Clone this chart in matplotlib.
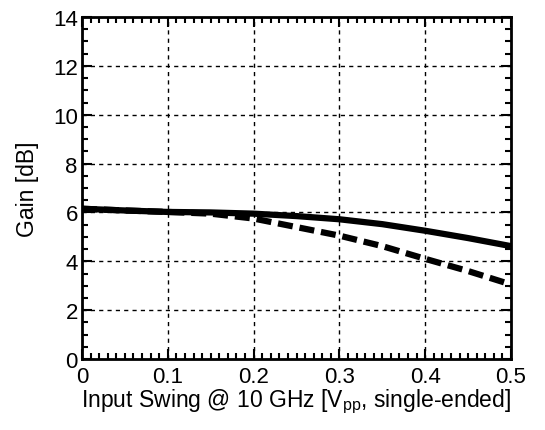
import matplotlib
matplotlib.use('Agg')
import matplotlib.pyplot as plt
from matplotlib.ticker import MultipleLocator

plt.rcParams['font.family'] = ['Liberation Sans', 'DejaVu Sans']

swing = [0.0, 0.05, 0.1, 0.15, 0.2, 0.25, 0.3, 0.35, 0.4, 0.45, 0.5]
gain_solid = [6.15, 6.08, 6.02, 6.0, 5.95, 5.85, 5.72, 5.52, 5.25, 4.95, 4.62]
gain_dashed = [6.15, 6.08, 6.02, 5.95, 5.75, 5.4, 5.05, 4.62, 4.1, 3.6, 3.05]

x_ticks = [0, 0.1, 0.2, 0.3, 0.4, 0.5]
x_labels = ['0', '0.1', '0.2', '0.3', '0.4', '0.5']
y_ticks = [0, 2, 4, 6, 8, 10, 12, 14]

fig = plt.figure(figsize=(5.45, 4.31), dpi=100)
ax = fig.add_axes([82 / 545, 1 - 360 / 431, 429 / 545, 342 / 431])

ax.plot(swing, gain_solid, color='black', lw=4.5, solid_capstyle='butt')
ax.plot(swing, gain_dashed, color='black', lw=4.5, ls=(0, (2.4, 1.1)))

ax.set_xlim(0, 0.5)
ax.set_ylim(0, 14)
ax.set_xticks(x_ticks)
ax.set_xticklabels(x_labels)
ax.set_yticks(y_ticks)
ax.xaxis.set_minor_locator(MultipleLocator(0.01))
ax.yaxis.set_minor_locator(MultipleLocator(0.5))
ax.tick_params(which='both', direction='in', top=True, right=True, width=1.5, labelsize=16)
ax.tick_params(which='major', length=7)
ax.tick_params(which='minor', length=4)
ax.tick_params(axis='x', pad=5)
ax.tick_params(axis='y', pad=3)
ax.grid(True, which='major', color='black', ls=(0, (3, 3)), lw=1.0)
for s in ax.spines.values():
    s.set_linewidth(2)

ax.set_xlabel('Input Swing @ 10 GHz [V$_{\\mathregular{pp}}$, single-ended]', fontsize=16.5, labelpad=0)
ax.set_ylabel('Gain [dB]', fontsize=16.5, labelpad=10)

fig.savefig('out.png', dpi=100)
